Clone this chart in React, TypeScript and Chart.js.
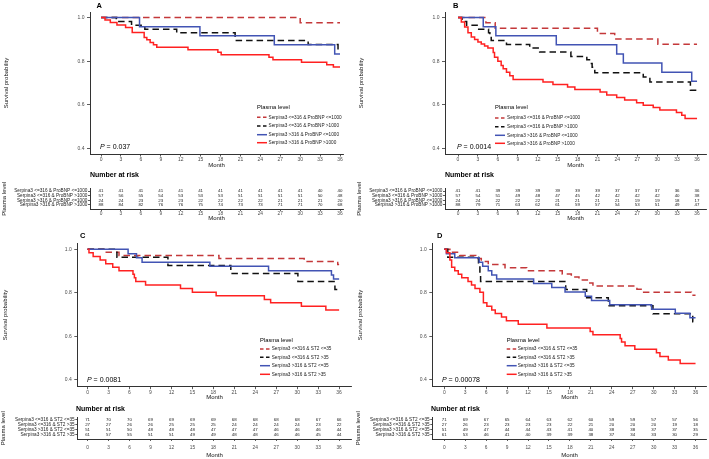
import React, { useEffect, useRef } from "react";
import { Chart, registerables } from "chart.js";

Chart.register(...registerables);

const FONT = "'Liberation Sans', Arial, Helvetica, sans-serif";

// ---------- shared axes / labels ----------
const months = [0, 3, 6, 9, 12, 15, 18, 21, 24, 27, 30, 33, 36];
const survTicks = [0.4, 0.6, 0.8, 1.0];
const proBnpGroups = [
  "Serpina3 <=316 & ProBNP <=1000",
  "Serpina3 <=316 & ProBNP >1000",
  "Serpina3 >316 & ProBNP <=1000",
  "Serpina3 >316 & ProBNP >1000",
];
const st2Groups = [
  "Serpina3 <=316 & ST2 <=35",
  "Serpina3 <=316 & ST2 >35",
  "Serpina3 >316 & ST2 <=35",
  "Serpina3 >316 & ST2 >35",
];

// ---------- Panel A (ProBNP, P = 0.037) : [month, survival] ----------
const aLowLow: [number, number][] = [[0, 1], [30, 0.976], [36, 0.976]];
const aLowHigh: [number, number][] = [[0, 1], [2.3, 0.982], [4.6, 0.965], [6.6, 0.947], [11.4, 0.93], [20.2, 0.895], [31.2, 0.877], [35.7, 0.853], [36, 0.853]];
const aHighLow: [number, number][] = [[0, 1], [5.8, 0.958], [14.9, 0.917], [26.1, 0.875], [35.2, 0.833], [36, 0.833]];
const aHighHigh: [number, number][] = [[0, 1], [0.6, 0.989], [1.4, 0.977], [2.4, 0.966], [3.7, 0.955], [4.7, 0.932], [6.5, 0.909], [6.9, 0.898], [7.4, 0.886], [7.9, 0.875], [8.4, 0.864], [13.1, 0.852], [17.6, 0.841], [18.1, 0.83], [25.3, 0.818], [25.9, 0.807], [30.2, 0.795], [34.0, 0.784], [35.0, 0.773], [36, 0.773]];
const aRisk1 = [41, 41, 41, 41, 41, 41, 41, 41, 41, 41, 41, 40, 40];
const aRisk2 = [57, 56, 55, 54, 53, 53, 53, 51, 51, 51, 51, 50, 48];
const aRisk3 = [24, 24, 23, 23, 23, 22, 22, 22, 22, 21, 21, 21, 20];
const aRisk4 = [88, 84, 82, 76, 76, 75, 74, 73, 73, 71, 71, 70, 68];

// ---------- Panel B (ProBNP, P = 0.0014) ----------
const bLowLow: [number, number][] = [[0, 1], [4.2, 0.976], [5.6, 0.951], [21.0, 0.927], [23.6, 0.902], [30.1, 0.878], [36, 0.878]];
const bLowHigh: [number, number][] = [[0, 1], [0.6, 0.982], [1.3, 0.965], [3.0, 0.947], [4.6, 0.93], [4.8, 0.912], [5.0, 0.895], [7.3, 0.877], [10.8, 0.86], [12.3, 0.842], [17.0, 0.822], [19.4, 0.807], [19.8, 0.79], [20.2, 0.772], [20.6, 0.747], [27.9, 0.728], [28.9, 0.705], [35.0, 0.667], [36, 0.667]];
const bHighLow: [number, number][] = [[0, 1], [3.8, 0.958], [5.7, 0.917], [14.8, 0.875], [23.9, 0.833], [24.9, 0.792], [30.7, 0.75], [35.2, 0.708], [36, 0.708]];
const bHighHigh: [number, number][] = [[0, 1], [0.5, 0.98], [1.0, 0.957], [1.5, 0.93], [2.0, 0.911], [2.5, 0.899], [3.0, 0.888], [3.5, 0.879], [4.0, 0.87], [4.5, 0.861], [5.3, 0.84], [5.5, 0.818], [6.0, 0.8], [6.5, 0.78], [6.8, 0.765], [7.3, 0.75], [7.8, 0.733], [8.3, 0.716], [12.8, 0.705], [14.3, 0.693], [16.5, 0.682], [17.6, 0.67], [21.4, 0.659], [22.4, 0.645], [23.9, 0.634], [25.1, 0.622], [26.9, 0.61], [27.9, 0.598], [29.4, 0.588], [30.4, 0.577], [32.9, 0.565], [33.7, 0.553], [34.2, 0.538], [36, 0.538]];
const bRisk1 = [41, 41, 39, 39, 39, 39, 39, 39, 37, 37, 37, 36, 36];
const bRisk2 = [57, 54, 51, 49, 48, 47, 45, 42, 42, 42, 42, 40, 38];
const bRisk3 = [24, 24, 22, 22, 22, 21, 21, 21, 21, 19, 19, 18, 17];
const bRisk4 = [88, 79, 71, 63, 62, 61, 59, 57, 54, 53, 51, 49, 47];

// ---------- Panel C (ST2, P = 0.0081) ----------
const cLowLow: [number, number][] = [[0, 1], [2.5, 0.986], [4.5, 0.972], [18.8, 0.958], [31.0, 0.944], [35.8, 0.93], [36, 0.93]];
const cLowHigh: [number, number][] = [[0, 1], [4.2, 0.963], [11.5, 0.926], [20.5, 0.889], [30.1, 0.852], [35.4, 0.815], [36, 0.815]];
const cHighLow: [number, number][] = [[0, 1], [5.8, 0.98], [7.0, 0.961], [7.8, 0.941], [17.5, 0.922], [25.9, 0.902], [34.9, 0.882], [35.2, 0.863], [36, 0.863]];
const cHighHigh: [number, number][] = [[0, 1], [0.2, 0.984], [0.8, 0.967], [1.8, 0.951], [2.6, 0.934], [3.6, 0.918], [4.5, 0.902], [6.5, 0.885], [6.7, 0.869], [6.9, 0.852], [8.3, 0.836], [13.3, 0.82], [15.0, 0.803], [18.4, 0.787], [25.3, 0.77], [26.2, 0.754], [30.6, 0.738], [34.1, 0.721], [36, 0.721]];
const cRisk1 = [71, 70, 70, 69, 69, 69, 69, 68, 68, 68, 68, 67, 66];
const cRisk2 = [27, 27, 26, 26, 25, 25, 25, 24, 24, 24, 24, 23, 22];
const cRisk3 = [51, 51, 50, 48, 48, 48, 47, 47, 47, 46, 46, 46, 44];
const cRisk4 = [61, 57, 55, 51, 51, 49, 49, 48, 48, 46, 46, 45, 44];

// ---------- Panel D (ST2, P = 0.00078) ----------
const dLowLow: [number, number][] = [[0, 1], [0.8, 0.986], [2.2, 0.972], [4.5, 0.958], [5.3, 0.944], [6.3, 0.93], [8.7, 0.915], [11.8, 0.901], [16.9, 0.887], [18.2, 0.873], [19.3, 0.859], [20.7, 0.845], [21.3, 0.831], [27.6, 0.817], [28.2, 0.803], [35.4, 0.789], [36, 0.789]];
const dLowHigh: [number, number][] = [[0, 1], [0.5, 0.963], [4.9, 0.926], [5.1, 0.889], [5.2, 0.852], [17.4, 0.815], [20.4, 0.778], [23.5, 0.741], [29.9, 0.704], [35.6, 0.667], [36, 0.667]];
const dHighLow: [number, number][] = [[0, 1], [0.3, 0.98], [1.5, 0.961], [5.0, 0.941], [5.5, 0.922], [6.3, 0.902], [6.8, 0.882], [7.5, 0.863], [12.8, 0.843], [15.4, 0.824], [17.3, 0.804], [20.2, 0.784], [21.1, 0.765], [23.7, 0.745], [29.7, 0.725], [33.1, 0.706], [35.2, 0.686], [36, 0.686]];
const dHighHigh: [number, number][] = [[0, 1], [0.3, 0.984], [0.8, 0.951], [1.05, 0.918], [1.5, 0.902], [2.0, 0.885], [2.5, 0.869], [3.4, 0.852], [3.9, 0.836], [4.4, 0.82], [5.1, 0.803], [5.6, 0.754], [6.1, 0.738], [6.8, 0.721], [7.3, 0.705], [8.2, 0.689], [8.9, 0.672], [10.6, 0.656], [14.7, 0.639], [20.9, 0.623], [21.3, 0.607], [25.2, 0.59], [25.4, 0.574], [25.9, 0.557], [27.3, 0.541], [30.4, 0.525], [30.9, 0.508], [32.1, 0.492], [33.8, 0.475], [36, 0.475]];
const dRisk1 = [71, 69, 67, 65, 64, 63, 62, 60, 59, 59, 57, 57, 56];
const dRisk2 = [27, 26, 23, 23, 23, 23, 22, 21, 20, 20, 20, 19, 18];
const dRisk3 = [51, 49, 47, 44, 44, 43, 41, 40, 38, 38, 37, 37, 35];
const dRisk4 = [61, 53, 46, 41, 40, 39, 39, 38, 37, 34, 33, 30, 29];

// ---------- styles ----------
const COLORS = ["#C4383A", "#111111", "#4254B4", "#FF2121"];
const DASHED = [true, true, false, false];
const AXIS = "#333333";
const TICKTXT = "#4d4d4d";

type Box = { x: number; y: number; w: number; h: number };
type Area = { l: number; t: number; r: number; b: number };

type KmSpec = {
  box: Box; area: Area; xRange: [number, number]; yRange: [number, number];
  curves: [number, number][][]; groups: string[];
  letter: string; letterAt: [number, number];
  pValue: string; pAt: [number, number];
  legendTitleAt: [number, number]; legendYs: number[]; legendLineX: [number, number]; legendTextX: number;
  tickPad: number; monthPad: number; yTitlePad: number;
};

type RiskSpec = {
  box: Box; area: Area; xRange: [number, number]; yRange: [number, number];
  rows: number[][]; groups: string[]; headerAt: [number, number];
  tickPad: number; monthPad: number; yTitlePad: number;
};

function KmChart({ spec }: { spec: KmSpec }) {
  const ref = useRef<HTMLCanvasElement>(null);
  useEffect(() => {
    const s = spec;
    const ox = s.box.x, oy = s.box.y;
    const overlay = {
      id: "kmOverlay",
      afterDraw(chart: any) {
        const ctx = chart.ctx as CanvasRenderingContext2D;
        ctx.save();
        ctx.textBaseline = "middle";
        ctx.textAlign = "left";
        ctx.fillStyle = "#000";
        ctx.font = `bold 7.5px ${FONT}`;
        ctx.fillText(s.letter, s.letterAt[0] - ox, s.letterAt[1] - oy);
        ctx.font = `italic 7px ${FONT}`;
        ctx.fillText("P", s.pAt[0] - ox, s.pAt[1] - oy);
        const pw = ctx.measureText("P").width;
        ctx.font = `7px ${FONT}`;
        ctx.fillText(" = " + s.pValue, s.pAt[0] - ox + pw, s.pAt[1] - oy);
        ctx.font = `5.8px ${FONT}`;
        ctx.fillText("Plasma level", s.legendTitleAt[0] - ox, s.legendTitleAt[1] - oy);
        s.groups.forEach((g, i) => {
          const y = s.legendYs[i] - oy;
          ctx.strokeStyle = COLORS[i];
          ctx.lineWidth = 1.5;
          ctx.setLineDash(DASHED[i] ? [3.5, 2.5] : []);
          ctx.beginPath();
          ctx.moveTo(s.legendLineX[0] - ox, y);
          ctx.lineTo(s.legendLineX[1] - ox, y);
          ctx.stroke();
          ctx.setLineDash([]);
          ctx.font = `4.7px ${FONT}`;
          ctx.fillStyle = "#222";
          ctx.fillText(g, s.legendTextX - ox, y);
        });
        ctx.restore();
      },
    };
    const chart = new Chart(ref.current as HTMLCanvasElement, {
      type: "line",
      data: {
        datasets: s.curves.map((c, i) => ({
          label: s.groups[i],
          data: c.map(([x, y]) => ({ x, y })),
          borderColor: COLORS[i],
          borderWidth: 1.5,
          borderDash: DASHED[i] ? [6.5, 4] : [],
          stepped: "before" as const,
          pointRadius: 0,
          fill: false,
          order: 3 - i,
        })),
      },
      options: {
        animation: false,
        responsive: false,
        events: [],
        layout: { padding: { left: 0, top: s.area.t - s.box.y, right: s.box.x + s.box.w - s.area.r, bottom: 0 } },
        plugins: { legend: { display: false }, tooltip: { enabled: false } },
        scales: {
          x: {
            type: "linear",
            min: s.xRange[0],
            max: s.xRange[1],
            afterBuildTicks: (ax: any) => { ax.ticks = months.map((v) => ({ value: v })); },
            afterFit: (ax: any) => { ax.height = s.box.y + s.box.h - s.area.b; },
            grid: { drawOnChartArea: false, drawTicks: true, tickLength: 2.5, color: AXIS, lineWidth: 0.8 },
            border: { display: true, color: AXIS, width: 1 },
            ticks: { autoSkip: false, maxRotation: 0, padding: s.tickPad, color: TICKTXT, font: { size: 5, family: FONT }, callback: (v: any) => String(v) },
            title: { display: true, text: "Month", color: "#111", font: { size: 6, family: FONT }, padding: { top: 0, bottom: s.monthPad } },
          },
          y: {
            type: "linear",
            min: s.yRange[0],
            max: s.yRange[1],
            afterBuildTicks: (ax: any) => { ax.ticks = survTicks.map((v) => ({ value: v })); },
            afterFit: (ax: any) => { ax.width = s.area.l - s.box.x; },
            grid: { drawOnChartArea: false, drawTicks: true, tickLength: 3, color: AXIS, lineWidth: 0.8 },
            border: { display: true, color: AXIS, width: 1 },
            ticks: { autoSkip: false, padding: 2.5, color: TICKTXT, font: { size: 5, family: FONT }, callback: (v: any) => Number(v).toFixed(1) },
            title: { display: true, text: "Survival probability", color: "#111", font: { size: 6, family: FONT }, padding: { top: s.yTitlePad, bottom: 0 } },
          },
        },
      } as any,
      plugins: [overlay],
    });
    return () => chart.destroy();
  }, [spec]);
  return (
    <canvas
      ref={ref}
      width={spec.box.w}
      height={spec.box.h}
      style={{ position: "absolute", left: spec.box.x, top: spec.box.y, width: spec.box.w, height: spec.box.h }}
    />
  );
}

function RiskChart({ spec }: { spec: RiskSpec }) {
  const ref = useRef<HTMLCanvasElement>(null);
  useEffect(() => {
    const s = spec;
    const ox = s.box.x, oy = s.box.y;
    const n = s.rows.length;
    const numbers = {
      id: "riskNumbers",
      afterDatasetsDraw(chart: any) {
        const ctx = chart.ctx as CanvasRenderingContext2D;
        ctx.save();
        ctx.textAlign = "center";
        ctx.textBaseline = "middle";
        ctx.fillStyle = "#1a1a1a";
        ctx.font = `4.4px ${FONT}`;
        s.rows.forEach((row, i) => {
          const meta = chart.getDatasetMeta(i);
          meta.data.forEach((pt: any, j: number) => {
            ctx.fillText(String(row[j]), pt.x, pt.y);
          });
        });
        ctx.textAlign = "left";
        ctx.fillStyle = "#000";
        ctx.font = `bold 7px ${FONT}`;
        ctx.fillText("Number at risk", s.headerAt[0] - ox, s.headerAt[1] - oy);
        ctx.restore();
      },
    };
    const chart = new Chart(ref.current as HTMLCanvasElement, {
      type: "scatter",
      data: {
        datasets: s.rows.map((row, i) => ({
          label: s.groups[i],
          data: row.map((_, j) => ({ x: months[j], y: n - i })),
          pointRadius: 0,
          showLine: false,
        })),
      },
      options: {
        animation: false,
        responsive: false,
        events: [],
        layout: { padding: { left: 0, top: s.area.t - s.box.y, right: s.box.x + s.box.w - s.area.r, bottom: 0 } },
        plugins: { legend: { display: false }, tooltip: { enabled: false } },
        scales: {
          x: {
            type: "linear",
            min: s.xRange[0],
            max: s.xRange[1],
            afterBuildTicks: (ax: any) => { ax.ticks = months.map((v) => ({ value: v })); },
            afterFit: (ax: any) => { ax.height = s.box.y + s.box.h - s.area.b; },
            grid: { drawOnChartArea: false, drawTicks: true, tickLength: 2, color: AXIS, lineWidth: 0.8 },
            border: { display: true, color: AXIS, width: 1 },
            ticks: { autoSkip: false, maxRotation: 0, padding: s.tickPad, color: TICKTXT, font: { size: 4.8, family: FONT }, callback: (v: any) => String(v) },
            title: { display: true, text: "Month", color: "#111", font: { size: 6, family: FONT }, padding: { top: 0, bottom: s.monthPad } },
          },
          y: {
            type: "linear",
            min: s.yRange[0],
            max: s.yRange[1],
            afterBuildTicks: (ax: any) => { ax.ticks = s.rows.map((_, i) => ({ value: n - i })); },
            afterFit: (ax: any) => { ax.width = s.area.l - s.box.x; },
            grid: { drawOnChartArea: false, drawTicks: true, tickLength: 2, color: AXIS, lineWidth: 0.8 },
            border: { display: true, color: AXIS, width: 1 },
            ticks: { autoSkip: false, padding: 0.6, color: "#222", font: { size: 4.7, family: FONT }, callback: (v: any) => s.groups[n - Number(v)] },
            title: { display: true, text: "Plasma level", color: "#111", font: { size: 6, family: FONT }, padding: { top: s.yTitlePad, bottom: 0 } },
          },
        },
      } as any,
      plugins: [numbers],
    });
    return () => chart.destroy();
  }, [spec]);
  return (
    <canvas
      ref={ref}
      width={spec.box.w}
      height={spec.box.h}
      style={{ position: "absolute", left: spec.box.x, top: spec.box.y, width: spec.box.w, height: spec.box.h }}
    />
  );
}

// ---------- layout ----------
const rangeA: [number, number] = [-1.66, 36.45];
const rangeB: [number, number] = [-1.96, 37.35];
const rangeC: [number, number] = [-1.47, 37.8];
const rangeD: [number, number] = [-1.72, 37.6];

const kmA: KmSpec = {
  box: { x: 0, y: 0, w: 355, h: 172 }, area: { l: 90, t: 12.1, r: 343, b: 154 }, xRange: rangeA, yRange: [0.375, 1.025],
  curves: [aLowLow, aLowHigh, aHighLow, aHighHigh], groups: proBnpGroups,
  letter: "A", letterAt: [96.5, 5.5], pValue: "0.037", pAt: [100, 147.5],
  legendTitleAt: [257, 107.5], legendYs: [117.3, 126, 134.7, 142.7], legendLineX: [257, 267], legendTextX: 268.5,
  tickPad: 0, monthPad: 2.7, yTitlePad: 2.4,
};
const kmB: KmSpec = {
  box: { x: 355, y: 0, w: 354, h: 172 }, area: { l: 445, t: 12.1, r: 706, b: 154 }, xRange: rangeB, yRange: [0.375, 1.025],
  curves: [bLowLow, bLowHigh, bHighLow, bHighHigh], groups: proBnpGroups,
  letter: "B", letterAt: [453, 5.5], pValue: "0.0014", pAt: [457, 147.5],
  legendTitleAt: [495, 107.5], legendYs: [118, 126.7, 135.3, 143.3], legendLineX: [495, 505], legendTextX: 507,
  tickPad: 0, monthPad: 2.7, yTitlePad: 2.4,
};
const kmC: KmSpec = {
  box: { x: 0, y: 228, w: 355, h: 175 }, area: { l: 77.3, t: 243.3, r: 351.7, b: 386.7 }, xRange: rangeC, yRange: [0.369, 1.0275],
  curves: [cLowLow, cLowHigh, cHighLow, cHighHigh], groups: st2Groups,
  letter: "C", letterAt: [80, 236], pValue: "0.0081", pAt: [87, 380],
  legendTitleAt: [260, 340], legendYs: [349, 357.3, 365.7, 374.3], legendLineX: [260, 270], legendTextX: 271.7,
  tickPad: 0, monthPad: 1.7, yTitlePad: 1.8,
};
const kmD: KmSpec = {
  box: { x: 355, y: 228, w: 354, h: 175 }, area: { l: 432.3, t: 243.3, r: 706.7, b: 386.7 }, xRange: rangeD, yRange: [0.369, 1.0275],
  curves: [dLowLow, dLowHigh, dHighLow, dHighHigh], groups: st2Groups,
  letter: "D", letterAt: [437, 236], pValue: "0.00078", pAt: [442, 380],
  legendTitleAt: [506.7, 340], legendYs: [349, 357.3, 365.7, 374.3], legendLineX: [506.7, 516.7], legendTextX: 517.7,
  tickPad: 0, monthPad: 1.7, yTitlePad: 1.8,
};

const riskA: RiskSpec = {
  box: { x: 0, y: 170, w: 355, h: 55 }, area: { l: 90, t: 188.7, r: 343, b: 209 }, xRange: rangeA, yRange: [0.14, 4.5],
  rows: [aRisk1, aRisk2, aRisk3, aRisk4], groups: proBnpGroups, headerAt: [90, 175],
  tickPad: 0, monthPad: 3.1, yTitlePad: 0.9,
};
const riskB: RiskSpec = {
  box: { x: 355, y: 170, w: 354, h: 55 }, area: { l: 445, t: 188.7, r: 706, b: 209 }, xRange: rangeB, yRange: [0.14, 4.5],
  rows: [bRisk1, bRisk2, bRisk3, bRisk4], groups: proBnpGroups, headerAt: [445, 175],
  tickPad: 0, monthPad: 3.1, yTitlePad: 0.9,
};
const riskC: RiskSpec = {
  box: { x: 0, y: 403, w: 355, h: 56 }, area: { l: 77.3, t: 417.5, r: 351.7, b: 439 }, xRange: rangeC, yRange: [0.12, 4.51],
  rows: [cRisk1, cRisk2, cRisk3, cRisk4], groups: st2Groups, headerAt: [76, 409.3],
  tickPad: 3.5, monthPad: 0, yTitlePad: 0,
};
const riskD: RiskSpec = {
  box: { x: 355, y: 403, w: 354, h: 56 }, area: { l: 432.3, t: 417.5, r: 706.7, b: 439 }, xRange: rangeD, yRange: [0.12, 4.51],
  rows: [dRisk1, dRisk2, dRisk3, dRisk4], groups: st2Groups, headerAt: [431, 409.3],
  tickPad: 3.5, monthPad: 0, yTitlePad: 0,
};

export default function App() {
  return (
    <div style={{ position: "absolute", left: 0, top: 0, width: 709, height: 459, background: "#fff", overflow: "hidden" }}>
      <KmChart spec={kmA} />
      <KmChart spec={kmB} />
      <RiskChart spec={riskA} />
      <RiskChart spec={riskB} />
      <KmChart spec={kmC} />
      <KmChart spec={kmD} />
      <RiskChart spec={riskC} />
      <RiskChart spec={riskD} />
    </div>
  );
}
